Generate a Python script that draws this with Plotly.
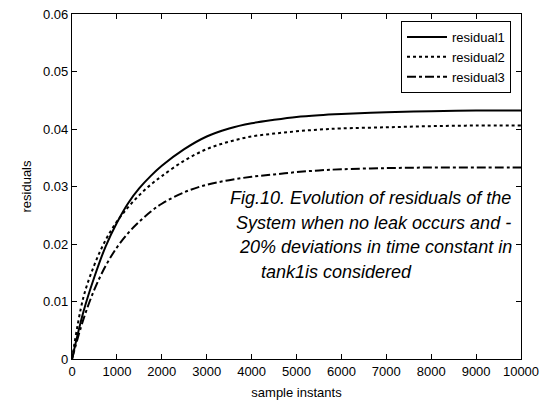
import plotly.graph_objects as go

# sample instants at which the residuals are listed
samples = [0, 250, 500, 750, 1000, 1250, 1500, 1750, 2000, 2500, 3000,
           3500, 4000, 4500, 5000, 5500, 6000, 7000, 8000, 9000, 10000]

residual1 = [0.0, 0.0081, 0.0143, 0.0196, 0.0237, 0.0271, 0.0297, 0.0318,
             0.0336, 0.0365, 0.0387, 0.0401, 0.0410, 0.0416, 0.0421, 0.0424,
             0.0426, 0.0429, 0.0431, 0.0432, 0.0432]
residual2 = [0.0, 0.0106, 0.0164, 0.0207, 0.0239, 0.0264, 0.0285, 0.0303,
             0.0318, 0.0345, 0.0365, 0.0378, 0.0387, 0.0392, 0.0396, 0.0399,
             0.0401, 0.0403, 0.0405, 0.0406, 0.0406]
residual3 = [0.0, 0.0068, 0.0121, 0.0162, 0.0194, 0.0219, 0.0239, 0.0256,
             0.0270, 0.0290, 0.0303, 0.0311, 0.0317, 0.0321, 0.0325, 0.0328,
             0.0330, 0.0332, 0.0333, 0.0333, 0.0333]

series_names = ["residual1", "residual2", "residual3"]
x_ticks = [0, 1000, 2000, 3000, 4000, 5000, 6000, 7000, 8000, 9000, 10000]
x_tick_labels = [str(v) for v in x_ticks]
y_ticks = [0, 0.01, 0.02, 0.03, 0.04, 0.05, 0.06]
y_tick_labels = ["0", "0.01", "0.02", "0.03", "0.04", "0.05", "0.06"]

caption_lines = [
    "Fig.10. Evolution of residuals of the",
    "System when no leak occurs and -",
    "20% deviations in time constant in",
    "tank1is considered",
]

FONT = "Arial, 'Liberation Sans', sans-serif"

fig = go.Figure()
styles = [("solid", 2.0), ("dot", 2.0), ("dashdot", 2.0)]
for name, ys, (dash, w) in zip(series_names, [residual1, residual2, residual3], styles):
    fig.add_trace(go.Scatter(
        x=samples, y=ys, name=name, mode="lines",
        line=dict(color="black", width=w, dash=dash, shape="spline", smoothing=1.0),
    ))

# plot area spans x 72..521 px and y 14..359 px of the 556x402 page
L, R, T, B = 72, 35, 14, 43
W, H = 556, 402
pw, ph = W - L - R, H - T - B

def px_x(x):
    return (x - L) / pw

def px_y(y):
    return (H - B - y) / ph

axis_common = dict(
    showline=True, linecolor="black", linewidth=1.2, mirror="ticks",
    ticks="inside", ticklen=5, tickwidth=1, tickcolor="black",
    showgrid=False, zeroline=False,
    tickfont=dict(family=FONT, size=13, color="black"),
)

fig.update_xaxes(
    range=[0, 10000], tickvals=x_ticks, ticktext=x_tick_labels, **axis_common,
    title=dict(text="sample instants", font=dict(family=FONT, size=13, color="black"), standoff=10),
)
fig.update_yaxes(
    range=[0, 0.06], tickvals=y_ticks, ticktext=y_tick_labels, **axis_common,
    title=dict(text="residuals", font=dict(family=FONT, size=13, color="black"), standoff=8),
)

# caption lines, each centred where it sits in the figure
caption_pos = [(370.5, 198), (373, 223), (375, 247), (336.5, 272)]
for text, (cx, cy) in zip(caption_lines, caption_pos):
    fig.add_annotation(
        text=f"<i>{text}</i>", xref="paper", yref="paper",
        x=px_x(cx), y=px_y(cy), xanchor="center", yanchor="middle",
        showarrow=False, font=dict(family=FONT, size=18, color="black"),
    )

fig.update_layout(
    width=W, height=H,
    margin=dict(l=L, r=R, t=T, b=B, autoexpand=False),
    paper_bgcolor="white", plot_bgcolor="white",
    showlegend=True,
    legend=dict(
        x=px_x(511), y=px_y(21), xanchor="right", yanchor="top",
        bgcolor="white", bordercolor="black", borderwidth=1,
        font=dict(family=FONT, size=13, color="black"),
        tracegroupgap=0, itemwidth=40,
    ),
)

fig.write_html("out.html")
